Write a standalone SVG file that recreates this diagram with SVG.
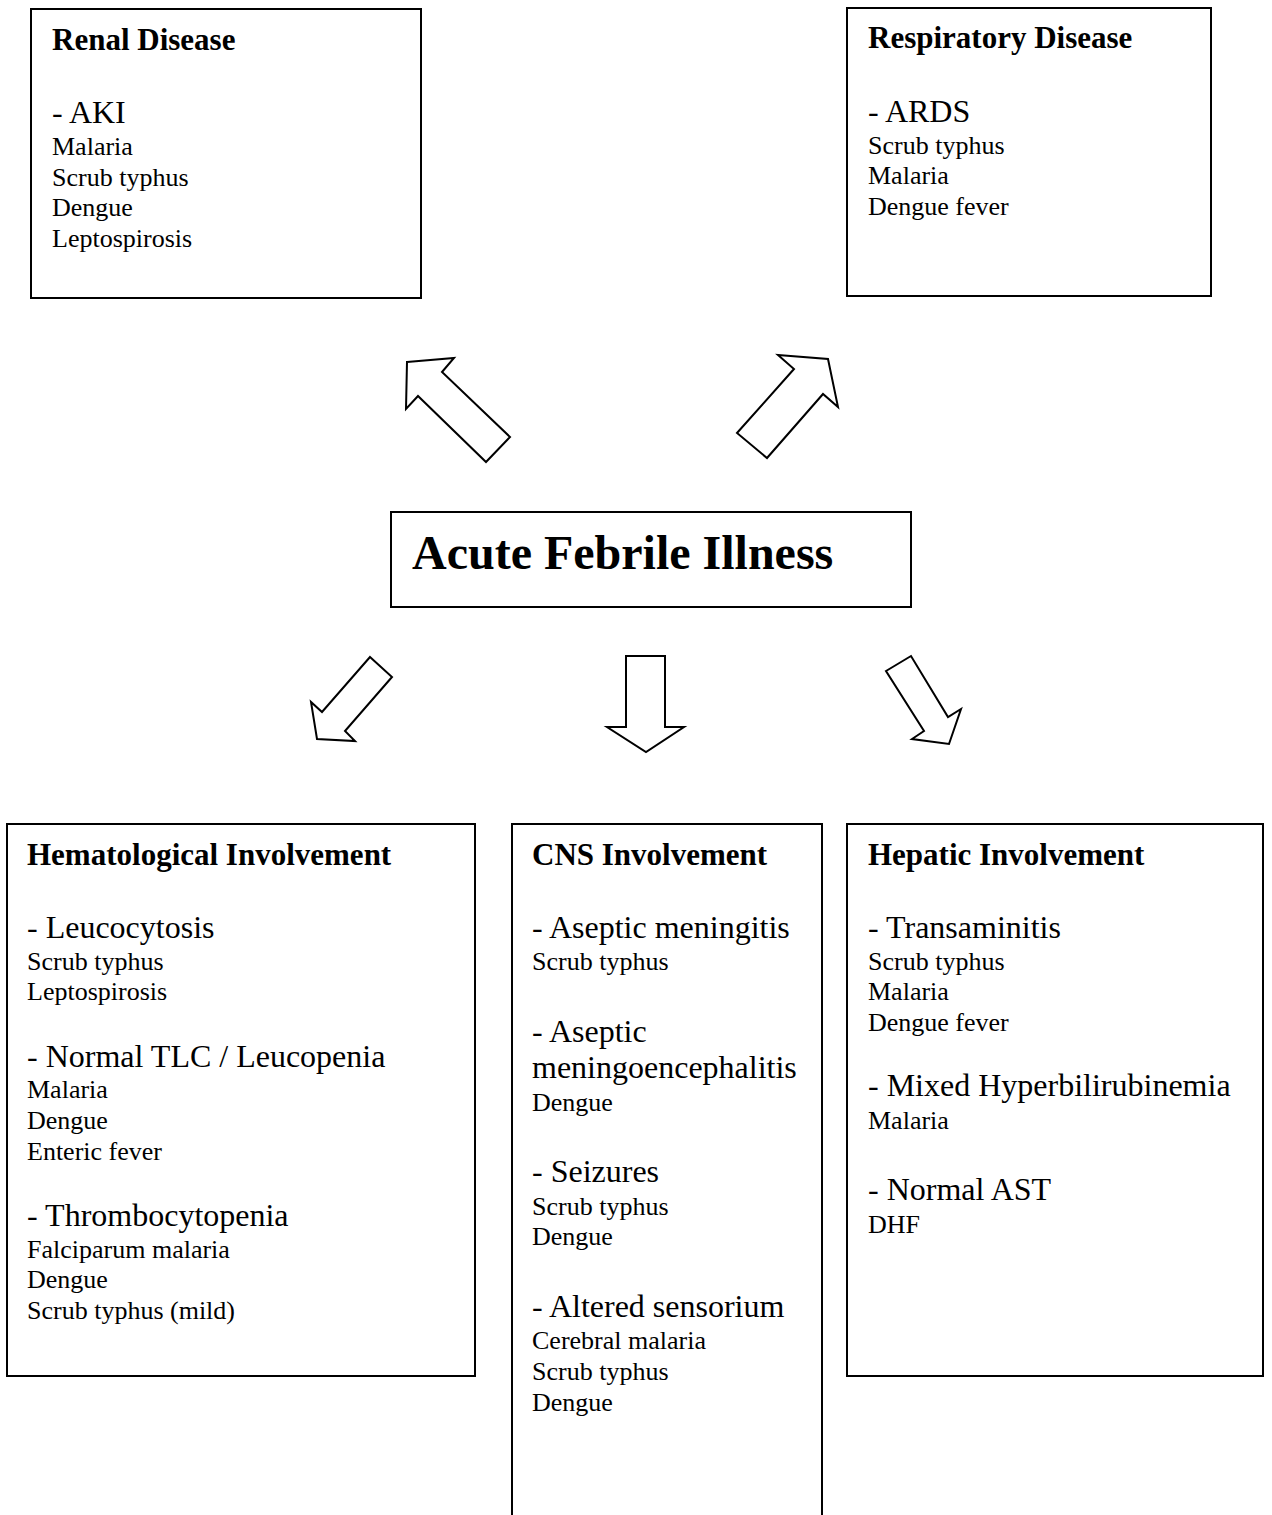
<svg xmlns="http://www.w3.org/2000/svg" width="1272" height="1515" viewBox="0 0 1272 1515">
  <style>
    .box { fill: #ffffff; stroke: #000000; stroke-width: 2; }
    .arrow { fill: #ffffff; stroke: #000000; stroke-width: 2; stroke-linejoin: miter; }
    text { font-family: "Liberation Serif", "Times New Roman", serif; fill: #000000; }
    .title { font-size: 31px; font-weight: bold; }
    .main { font-size: 48px; font-weight: bold; }
    .item { font-size: 32px; }
    .cause { font-size: 26px; }
  </style>
  <rect width="1272" height="1515" fill="#ffffff"/>

  <g id="renal">
    <rect class="box" x="31" y="9" width="390" height="289"/>
    <text class="title" x="52" y="50">Renal Disease</text>
    <text class="item" x="52" y="123">- AKI</text>
    <text class="cause" x="52" y="155">Malaria</text>
    <text class="cause" x="52" y="186">Scrub typhus</text>
    <text class="cause" x="52" y="216">Dengue</text>
    <text class="cause" x="52" y="247">Leptospirosis</text>
  </g>

  <g id="respiratory">
    <rect class="box" x="847" y="8" width="364" height="288"/>
    <text class="title" x="868" y="48">Respiratory Disease</text>
    <text class="item" x="868" y="122">- ARDS</text>
    <text class="cause" x="868" y="154">Scrub typhus</text>
    <text class="cause" x="868" y="184">Malaria</text>
    <text class="cause" x="868" y="215">Dengue fever</text>
  </g>

  <g id="afi">
    <rect class="box" x="391" y="512" width="520" height="95"/>
    <text class="main" x="412" y="569">Acute Febrile Illness</text>
  </g>

  <g id="hematological">
    <rect class="box" x="7" y="824" width="468" height="552"/>
    <text class="title" x="27" y="865">Hematological Involvement</text>
    <text class="item" x="27" y="938">- Leucocytosis</text>
    <text class="cause" x="27" y="970">Scrub typhus</text>
    <text class="cause" x="27" y="1000">Leptospirosis</text>
    <text class="item" x="27" y="1067">- Normal TLC / Leucopenia</text>
    <text class="cause" x="27" y="1098">Malaria</text>
    <text class="cause" x="27" y="1129">Dengue</text>
    <text class="cause" x="27" y="1160">Enteric fever</text>
    <text class="item" x="27" y="1226">- Thrombocytopenia</text>
    <text class="cause" x="27" y="1258">Falciparum malaria</text>
    <text class="cause" x="27" y="1288">Dengue</text>
    <text class="cause" x="27" y="1319">Scrub typhus (mild)</text>
  </g>

  <g id="cns">
    <rect class="box" x="512" y="824" width="310" height="720"/>
    <text class="title" x="532" y="865">CNS Involvement</text>
    <text class="item" x="532" y="938">- Aseptic meningitis</text>
    <text class="cause" x="532" y="970">Scrub typhus</text>
    <text class="item" x="532" y="1042">- Aseptic</text>
    <text class="item" x="532" y="1078">meningoencephalitis</text>
    <text class="cause" x="532" y="1111">Dengue</text>
    <text class="item" x="532" y="1182">- Seizures</text>
    <text class="cause" x="532" y="1215">Scrub typhus</text>
    <text class="cause" x="532" y="1245">Dengue</text>
    <text class="item" x="532" y="1317">- Altered sensorium</text>
    <text class="cause" x="532" y="1349">Cerebral malaria</text>
    <text class="cause" x="532" y="1380">Scrub typhus</text>
    <text class="cause" x="532" y="1411">Dengue</text>
  </g>

  <g id="hepatic">
    <rect class="box" x="847" y="824" width="416" height="552"/>
    <text class="title" x="868" y="865">Hepatic Involvement</text>
    <text class="item" x="868" y="938">- Transaminitis</text>
    <text class="cause" x="868" y="970">Scrub typhus</text>
    <text class="cause" x="868" y="1000">Malaria</text>
    <text class="cause" x="868" y="1031">Dengue fever</text>
    <text class="item" x="868" y="1096">- Mixed Hyperbilirubinemia</text>
    <text class="cause" x="868" y="1129">Malaria</text>
    <text class="item" x="868" y="1200">- Normal AST</text>
    <text class="cause" x="868" y="1233">DHF</text>
  </g>

  <!-- block arrows from the central box to each organ system -->
  <g id="connectors">
    <polygon class="arrow" points="407,362 454,358 442,372 510,437 486,462 418,396 406,409"/>
    <polygon class="arrow" points="778,355 828,359 838,407 823,394 767,458 737,433 794,369"/>
    <polygon class="arrow" points="370,657 392,677 345,731 355,741 317,739 311,702 322,712"/>
    <polygon class="arrow" points="626,656 665,656 665,727 684,727 646,752 607,727 626,727"/>
    <polygon class="arrow" points="886,671 911,656 948,717 961,709 949,744 912,739 924,731"/>
  </g>
</svg>
